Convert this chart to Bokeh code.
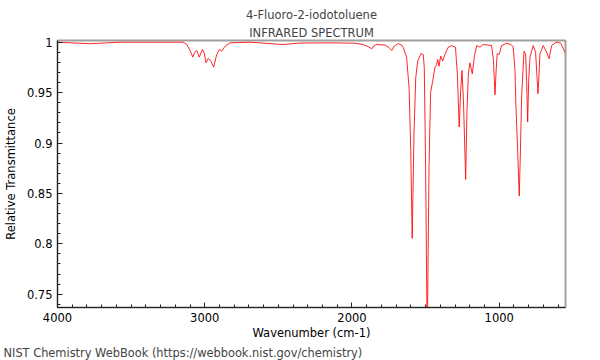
from bokeh.plotting import figure
from bokeh.models import Range1d, SingleIntervalTicker, NumeralTickFormatter, Title
from bokeh.embed import file_html
from bokeh.resources import INLINE

title_main = "4-Fluoro-2-iodotoluene"
title_sub = "INFRARED SPECTRUM"
footer = "NIST Chemistry WebBook (https://webbook.nist.gov/chemistry)"
x_label = "Wavenumber (cm-1)"
y_label = "Relative Transmittance"

wavenumber = [4000, 3780, 3575, 3236, 3147, 3122, 3100, 3081, 3068, 3054, 3037, 3016,
              3005, 2991, 2976, 2959, 2939, 2919, 2901, 2885, 2862, 2828, 2692, 2468,
              2353, 2149, 1980, 1923, 1891, 1866, 1850, 1832, 1776, 1749, 1730, 1715,
              1686, 1663, 1652, 1629, 1612, 1601, 1591, 1579, 1567, 1554, 1531, 1516,
              1509, 1500, 1489, 1477, 1466, 1452, 1437, 1425, 1418, 1409, 1398, 1384,
              1369, 1346, 1323, 1297, 1284, 1272, 1262, 1253, 1243, 1228, 1219, 1210,
              1199, 1183, 1168, 1153, 1131, 1109, 1052, 1039, 1029, 1021, 1014, 1000,
              984, 950, 920, 905, 893, 887, 875, 864, 856, 848, 832, 821, 814, 807,
              800, 791, 769, 753, 744, 737, 730, 724, 701, 678, 662, 644, 615, 599,
              581, 554]
transmittance = [1.0, 0.9985, 1.0, 1.0, 1.0, 0.9977, 0.9918, 0.9852, 0.990, 0.9918, 0.9852, 0.9928,
                 0.990, 0.9796, 0.9839, 0.9812, 0.9753, 0.9878, 0.9928, 0.9911, 0.996, 0.9994, 1.0, 0.9977,
                 0.9992, 0.9994, 0.999, 0.9977, 0.9957, 0.9935, 0.9967, 0.9977, 0.9972, 0.9948, 0.9918, 0.9957,
                 0.9987, 0.9972, 0.9948, 0.9849, 0.9542, 0.8928, 0.8054, 0.9086, 0.9648, 0.9812, 0.9888, 0.9878,
                 0.9747, 0.876, 0.70, 0.876, 0.950, 0.9614, 0.9747, 0.9779, 0.9829, 0.9762, 0.9861, 0.9812,
                 0.9878, 0.9951, 0.9967, 0.9947, 0.967, 0.9159, 0.952, 0.972, 0.942, 0.8638, 0.932, 0.9687,
                 0.9796, 0.9687, 0.9868, 0.9967, 0.9951, 0.9977, 0.9967, 0.9819, 0.9479, 0.972, 0.9885, 0.988,
                 0.9967, 0.999, 0.9977, 0.9951, 0.972, 0.939, 0.893, 0.8473, 0.893, 0.9456, 0.9911, 0.9885,
                 0.962, 0.9208, 0.962, 0.9852, 0.9967, 0.9901, 0.967, 0.9489, 0.967, 0.9885, 0.9967, 0.9901,
                 0.9836, 0.9967, 0.9997, 1.0, 0.9987, 0.9901]

FONT = "DejaVu Sans"
FS = "11.5px"

p = figure(width=600, height=360, output_backend="svg", toolbar_location=None,
           x_range=Range1d(4000, 550), y_range=Range1d(0.7368, 1.0017),
           min_border_left=57, min_border_right=35, min_border_top=40, min_border_bottom=53,
           title=None)

p.line(wavenumber, transmittance, line_color="red", line_width=1, line_alpha=0.85)

p.grid.visible = False
p.outline_line_color = "#a0a0a0"
p.outline_line_width = 2
p.background_fill_color = "white"
p.border_fill_color = "white"

p.xaxis.ticker = SingleIntervalTicker(interval=1000, num_minor_ticks=10)
p.yaxis.ticker = SingleIntervalTicker(interval=0.05, num_minor_ticks=5)
p.yaxis.formatter = NumeralTickFormatter(format="0.[00]")
p.xaxis.axis_label = x_label
p.yaxis.axis_label = y_label

for ax in (p.xaxis, p.yaxis):
    ax.axis_line_color = "#222222"
    ax.major_tick_line_color = "#222222"
    ax.minor_tick_line_color = "#222222"
    ax.major_tick_in = 5
    ax.major_tick_out = 0
    ax.minor_tick_in = 3
    ax.minor_tick_out = 0
    ax.major_label_text_font = FONT
    ax.major_label_text_font_size = FS
    ax.major_label_text_color = "black"
    ax.axis_label_text_font = FONT
    ax.axis_label_text_font_size = FS
    ax.axis_label_text_font_style = "normal"
    ax.axis_label_text_color = "black"

p.xaxis.major_label_standoff = 5
p.xaxis.axis_label_standoff = 1
p.yaxis.major_label_standoff = 5
p.yaxis.axis_label_standoff = 6

p.add_layout(Title(text=title_sub, align="center", text_font=FONT, text_font_size=FS,
                   text_font_style="normal", standoff=2), "above")
p.add_layout(Title(text=title_main, align="center", text_font=FONT, text_font_size=FS,
                   text_font_style="normal", standoff=2), "above")
p.add_layout(Title(text=footer, align="left", text_font=FONT, text_font_size="11.4px",
                   text_font_style="normal", offset=-54, standoff=2), "below")

open("out.html", "w").write(file_html(p, INLINE))
